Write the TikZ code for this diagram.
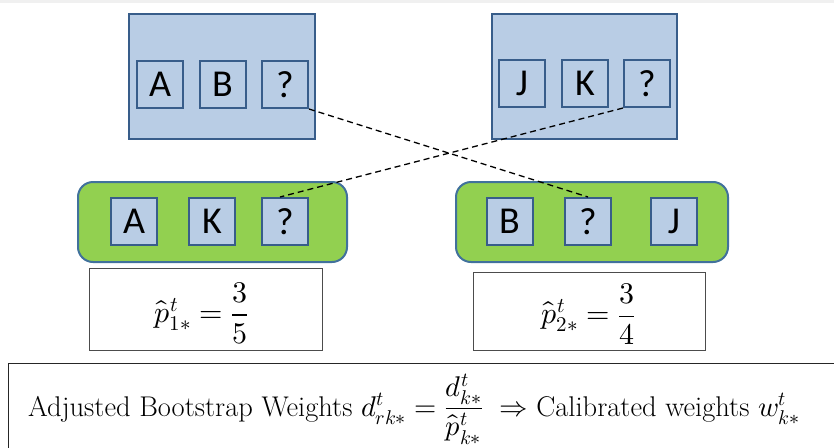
\documentclass[tikz,border=0pt]{standalone}
\usepackage{amsmath}
\usepackage{fontspec}
\usepackage{unicode-math}
\setmathfont{Latin Modern Math}
\newfontfamily\carlito{Carlito}
\usetikzlibrary{calc}
\definecolor{unitfill}{HTML}{B9CDE5}
\definecolor{unitline}{HTML}{385D8A}
\definecolor{groupfill}{HTML}{92D050}
\definecolor{groupline}{HTML}{41719C}
\tikzset{
  psu/.style={draw=unitline, fill=unitfill, line width=2pt, inner sep=0pt},
  unit/.style={draw=unitline, fill=unitfill, line width=2pt, inner sep=0pt,
    minimum width=46pt, minimum height=47pt,
    font=\carlito\fontsize{38}{40}\selectfont},
  grp/.style={draw=groupline, fill=groupfill, line width=2pt, inner sep=0pt,
    rounded corners=15pt},
  probbox/.style={draw=black!70, line width=0.9pt, fill=white, inner sep=0pt},
  formula/.style={font=\fontsize{30}{32}\selectfont, inner sep=0pt},
  link/.style={dashed, dash pattern=on 6pt off 4pt, line width=1.3pt, black},
}
\begin{document}
\begin{tikzpicture}[x=1pt, y=-1pt]
\useasboundingbox (0,0) rectangle (834,447);
\clip (0,0) rectangle (834,447);
\fill[black!6] (0,0) rectangle (834,3);

% sampled clusters
\node[psu, minimum width=186pt, minimum height=125pt] (clA) at (222,76.5) {};
\node[psu, minimum width=185pt, minimum height=125pt] (clB) at (584.5,76.5) {};
\node[unit] (tA) at (160,84.5) {A};
\node[unit] (tB) at (222.5,84.5) {B};
\node[unit] (tQ1) at (285,84.5) {?};
\node[unit] (tJ) at (522,83.5) {J};
\node[unit] (tK) at (585,83.5) {K};
\node[unit] (tQ2) at (647,83.5) {?};

% imputation classes
\node[grp, minimum width=269pt, minimum height=80pt] (gL) at (212.5,222) {};
\node[grp, minimum width=272pt, minimum height=80pt] (gR) at (592,222) {};
\node[unit] (lA) at (134,221.5) {A};
\node[unit] (lK) at (212,221.5) {K};
\node[unit] (lQ) at (285,221.5) {?};
\node[unit] (rB) at (509.5,221.5) {B};
\node[unit] (rQ) at (588,221.5) {?};
\node[unit] (rJ) at (674,221.5) {J};

% response propensities
\node[probbox, minimum width=233pt, minimum height=82pt] (pL) at (205.5,309) {};
\node[probbox, minimum width=232pt, minimum height=78pt] (pR) at (589,311) {};
\node[formula] (fL) at (201.5,313) {$\hat{p}^{t}_{1*}=\dfrac{3}{5}$};
\node[formula] (fR) at (588.5,314) {$\hat{p}^{t}_{2*}=\dfrac{3}{4}$};

% adjusted weights
\node[probbox, draw=black!85, minimum width=850pt, minimum height=100pt, anchor=north west] (wb) at (8,363) {};
\node[font=\fontsize{28.5}{30}\selectfont, anchor=base west, inner sep=0pt] (wt) at (28,416)
  {Adjusted Bootstrap Weights $d^{t}_{rk*}=\dfrac{d^{t}_{k*}}{\hat{p}^{t}_{k*}}\ \Rightarrow$ Calibrated weights $w^{t}_{k*}$};

% donor links
\draw[link] (tQ1.south east) -- (rQ.north);
\draw[link] (tQ2.south west) -- ([xshift=-5pt]lQ.north);
\end{tikzpicture}
\end{document}
